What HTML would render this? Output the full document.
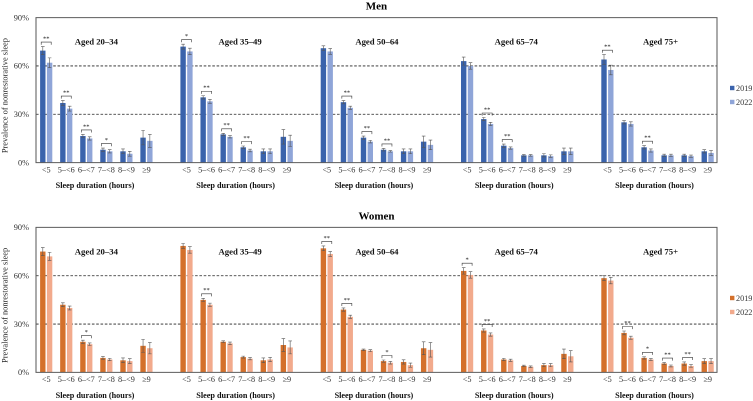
<!DOCTYPE html>
<html lang="en">
<head>
<meta charset="utf-8">
<title>Prevalence of nonrestorative sleep by sleep duration</title>
<style>
html,body{margin:0;padding:0;background:#fff;}
svg{display:block;font-family:"Liberation Serif",serif;}
</style>
</head>
<body>
<svg id="chart" width="753" height="401" viewBox="0 0 753 401" xmlns="http://www.w3.org/2000/svg"></svg>
<script>
const categories = ['<5', '5–<6', '6–<7', '7–<8', '8–<9', '≥9'];
const ageGroups = ['Aged 20–34', 'Aged 35–49', 'Aged 50–64', 'Aged 65–74', 'Aged 75+'];
const yTicks = [0, 30, 60, 90];
const gridValues = [30, 60];
const years = ['2019', '2022'];

const men2019 = [
  [69.5, 37, 16.5, 8, 7, 15.5],
  [72, 40.5, 17.5, 9.5, 7, 16],
  [71, 37.5, 15.5, 8, 7, 13],
  [63, 27, 10.5, 4.5, 4.5, 7],
  [64, 25, 9.5, 4.5, 4.5, 7]
];
const men2022 = [
  [62, 33.5, 15, 7, 5.5, 13.5],
  [69, 38, 16, 7.5, 7, 13.5],
  [69, 34, 13, 7, 7, 11],
  [60, 24, 9, 4.5, 4, 7],
  [57.5, 24, 7.5, 4.5, 4, 6]
];
const menErr2019 = [
  [2.5, 1.5, 1, 1, 1.5, 4.5],
  [1.5, 1, 0.7, 0.8, 1.5, 4.5],
  [1.5, 1, 1, 0.8, 1.5, 3.5],
  [2.5, 1, 1, 0.5, 1, 2],
  [3, 1, 1, 0.7, 0.7, 1]
];
const menErr2022 = [
  [3, 1.5, 1, 1, 1.5, 4],
  [2, 1.2, 0.7, 0.8, 1.5, 3.5],
  [1.8, 1, 0.8, 0.5, 1.5, 3],
  [2, 1, 0.7, 0.5, 0.8, 2],
  [3, 1.3, 1, 0.7, 0.7, 1.5]
];
const menSig = [
  ['**', '**', '**', '*', '', ''],
  ['*', '**', '**', '**', '', ''],
  ['', '**', '**', '**', '', ''],
  ['', '**', '**', '', '', ''],
  ['**', '', '**', '', '', '']
];

const women2019 = [
  [75, 42, 19, 9, 7.5, 16.5],
  [78.5, 45, 19, 9.5, 7.5, 17],
  [77, 39, 14, 7, 6.5, 15],
  [63, 26, 8, 4, 4.5, 11.5],
  [58.5, 24.5, 9, 5.5, 5.5, 7]
];
const women2022 = [
  [72, 40, 17.5, 8, 7, 15],
  [76, 42, 18, 8.5, 8, 15.5],
  [73.5, 34.5, 13.5, 6, 4.5, 14],
  [60.5, 23.5, 7.5, 3.5, 4.5, 10],
  [57, 21.5, 8, 4, 4, 7]
];
const womenErr2019 = [
  [2.5, 1.2, 1, 0.8, 1.5, 4],
  [1.5, 1, 0.6, 0.6, 1.5, 4],
  [1.5, 1, 0.5, 0.7, 1.3, 4],
  [2, 1, 0.7, 0.5, 1, 3],
  [1.5, 1.2, 0.7, 0.6, 1, 1.5]
];
const womenErr2022 = [
  [2.5, 1.2, 0.8, 0.7, 1.5, 3.5],
  [2, 1, 0.8, 0.7, 1.3, 4],
  [1.5, 1, 0.6, 0.8, 1.3, 4.5],
  [2, 1, 0.7, 0.5, 1, 3.5],
  [2, 1, 0.6, 0.6, 0.8, 1.5]
];
const womenSig = [
  ['', '', '*', '', '', ''],
  ['', '**', '', '', '', ''],
  ['**', '**', '', '*', '', ''],
  ['*', '**', '', '', '', ''],
  ['', '**', '*', '**', '**', '']
];

const NS = 'http://www.w3.org/2000/svg';
const svg = document.getElementById('chart');
const plotLeft = 36, plotRight = 717, plotHeight = 145, yMax = 90;
const firstCenter = 46.2, panelStep = 140.3, catStep = 20.05, barW = 5.4, barOff = 3.4;
const labelNudge = [0, 3.5, 0, -1, 3];
const axisTitleNudge = [-1.3, -1, -3, -3, -3];

function xCat(panel, cat) { return firstCenter + panel * panelStep + cat * catStep; }
function yVal(v, bottom) { return bottom - v / yMax * plotHeight; }

function make(tag, attrs, parent, text) {
  const el = document.createElementNS(NS, tag);
  for (const k in attrs) el.setAttribute(k, attrs[k]);
  if (text !== undefined) el.textContent = text;
  parent.appendChild(el);
  return el;
}

function drawChart(cfg) {
  const g = make('g', {}, svg);
  
  
  const bottom = cfg.bottom, top = bottom - plotHeight;

  const title = make('text', {x: 376.5, y: cfg.titleY, 'text-anchor': 'middle', 'font-size': 11, 'font-weight': 'bold', fill: '#000'}, g, cfg.title);
  
  

  const yTitle = make('text', {transform: 'translate(7.5,' + (bottom - 67) + ') rotate(-90)', 'text-anchor': 'middle', 'font-size': 8.4, fill: '#222'}, g, 'Prevalence of nonrestorative sleep');
  
  

  yTicks.forEach(function (t) {
    const lab = make('text', {x: 29, y: yVal(t, bottom) + 2.8, 'text-anchor': 'end', 'font-size': 8.3, fill: '#333'}, g, t + '%');
    
    
  });

  gridValues.forEach(function (v) {
    const line = make('line', {x1: plotLeft, x2: plotRight, y1: yVal(v, bottom), y2: yVal(v, bottom), stroke: '#222', 'stroke-width': 0.8, 'stroke-dasharray': '2.6 1.7'}, g);
    
    
  });

  ageGroups.forEach(function (name, p) {
    const pg = make('g', {}, g);
    
    

    const lab = make('text', {x: xCat(p, 2.5) + labelNudge[p], y: bottom - 118, 'text-anchor': 'middle', 'font-size': 8.7, 'font-weight': 'bold', fill: '#111'}, pg, name);
    
    

    const axT = make('text', {x: xCat(p, 2.5) + axisTitleNudge[p], y: bottom + 25.5, 'text-anchor': 'middle', 'font-size': 8.2, 'font-weight': 'bold', fill: '#111'}, pg, 'Sleep duration (hours)');
    
    

    categories.forEach(function (c, i) {
      const cx = xCat(p, i);
      const tick = make('text', {x: cx, y: bottom + 9.8, 'text-anchor': 'middle', 'font-size': 8.2, fill: '#333'}, pg, c);
      
      

      const series = [
        {v: cfg.a[p][i], e: cfg.ea[p][i], color: cfg.colorA, off: -barOff},
        {v: cfg.b[p][i], e: cfg.eb[p][i], color: cfg.colorB, off: barOff}
      ];
      series.forEach(function (s, si) {
        const bx = cx + s.off;
        const yTop = yVal(s.v, bottom);
        const bar = make('rect', {x: bx - barW / 2, y: yTop, width: barW, height: bottom - yTop, fill: s.color}, pg);
        
        

        const y1 = yVal(s.v + s.e, bottom), y2 = yVal(s.v - s.e, bottom);
        const err = make('path', {d: 'M' + bx + ' ' + y1 + 'V' + y2 + 'M' + (bx - 1.8) + ' ' + y1 + 'H' + (bx + 1.8) + 'M' + (bx - 1.8) + ' ' + y2 + 'H' + (bx + 1.8), stroke: '#555', 'stroke-width': 0.6, fill: 'none'}, pg);
        
        
      });

      const sig = cfg.sig[p][i];
      if (sig) {
        const peak = Math.max(series[0].v + series[0].e, series[1].v + series[1].e);
        const by = yVal(peak, bottom) - 4.5;
        const br = make('path', {d: 'M' + (cx - 5) + ' ' + (by + 2.6) + 'V' + by + 'H' + (cx + 5) + 'V' + (by + 2.6), stroke: '#333', 'stroke-width': 0.6, fill: 'none'}, pg);
        
        
        const st = make('text', {x: cx, y: by - 1.6, 'text-anchor': 'middle', 'font-size': 6.5, fill: '#222'}, pg, sig);
        
        
      }
    });
  });

  const frame = make('path', {d: 'M' + plotLeft + ' ' + bottom + 'V' + top + 'H' + plotRight + 'V' + bottom + 'Z', fill: 'none', stroke: '#5c5c5c', 'stroke-width': 1.05}, g);
  
  

  years.forEach(function (yr, i) {
    const ly = cfg.legendY + i * 14;
    const sw = make('rect', {x: 730, y: ly - 2.2, width: 4.4, height: 4.4, fill: i === 0 ? cfg.colorA : cfg.colorB}, g);
    
    
    const lt = make('text', {x: 736, y: ly + 2.8, 'font-size': 8.2, fill: '#333'}, g, yr);
    
    
  });
}

drawChart({key: 'men', title: 'Men', titleY: 9.5, bottom: 162.6, legendY: 88, a: men2019, b: men2022, ea: menErr2019, eb: menErr2022, sig: menSig, colorA: '#3A63AC', colorB: '#8FA5D8'});
drawChart({key: 'women', title: 'Women', titleY: 219.5, bottom: 372.4, legendY: 298, a: women2019, b: women2022, ea: womenErr2019, eb: womenErr2022, sig: womenSig, colorA: '#D4702B', colorB: '#F2AA8C'});
</script>
</body>
</html>
